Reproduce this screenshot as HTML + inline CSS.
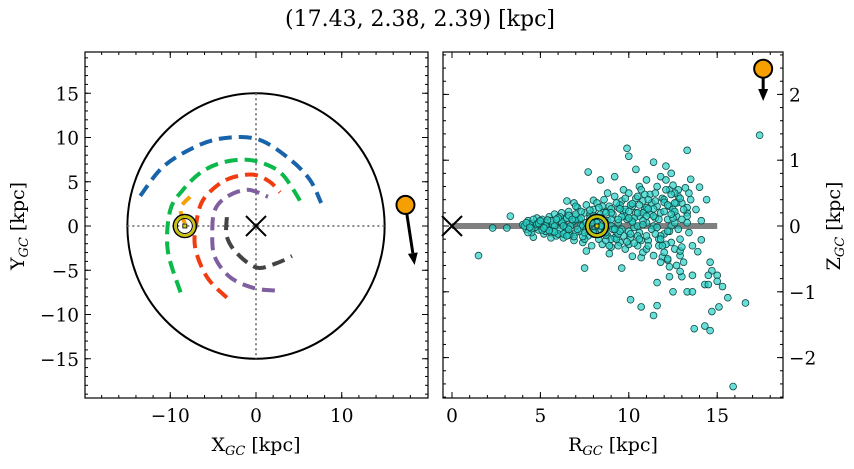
<!DOCTYPE html>
<html><head><meta charset="utf-8"><style>
body{margin:0;background:#fff}
text{font-family:"DejaVu Serif","Liberation Serif",serif;fill:#000}
</style></head><body>
<svg id="s" width="854" height="464" viewBox="0 0 854 464" xmlns="http://www.w3.org/2000/svg">
<text x="420" y="26" font-size="22" text-anchor="middle">(17.43, 2.38, 2.39) [kpc]</text>
<g id="L"></g>
<g id="R"></g>
</svg>
<script>
// ---- data ----
const blueX=[-13.5,-10.7,-6.5,-3.0,0.5,4.0,6.3,7.6];
const blueY=[3.4,6.8,9.2,10.0,9.7,7.5,5.2,2.6];
const greenX=[-8.8,-10.3,-10.0,-8.5,-6.5,-4.2,-1.5,0.8,3.1,5.3];
const greenY=[-7.5,-2.7,1.8,4.1,6.0,7.1,7.5,7.1,5.8,2.6];
const redX=[-3.4,-5.7,-7.1,-6.9,-6.2,-4.5,-2.7,-0.3,1.6,2.8];
const redY=[-8.1,-5.8,-2.4,0.7,2.9,4.6,5.5,5.8,5.0,3.8];
const purpleX=[2.2,-0.3,-3.0,-4.8,-5.1,-4.8,-3.4,-1.0,1.4];
const purpleY=[-7.3,-7.0,-5.8,-3.5,-0.8,1.8,3.3,4.1,3.3];
const grayX=[-3.4,-3.4,-2.2,0.1,2.4,4.2];
const grayY=[1.0,-1.2,-3.1,-4.7,-4.2,-3.4];
const orangeX=[-8.3,-8.8,-7.7];
const orangeY=[0.3,2.0,3.3];
const sunXY=[-8.3,0]; const sunRZ=[8.2,0];
const starX=17.43, starY=2.38, starR=17.6, starZ=2.39;
const arrowXY=[18.5,-4.4]; const arrowZ=1.9;
const ptsR=[17.4,9.9,10.0,13.3,11.4,12.1,7.7,8.4,9.2,10.4,13.5,14.0,14.4,6.5,6.9,3.3,2.3,3.1,1.5,14.1,14.1,13.9,7.5,9.6,11.6,14.6,14.7,14.5,15.0,13.6,12.3,13.0,12.7,12.9,14.3,14.5,15.0,15.3,12.5,13.3,13.6,10.1,10.7,11.6,11.4,15.6,16.6,15.1,14.7,13.7,14.3,14.6,15.9,11.9,12.2,10.7,10.2,8.9,7.6,4.6,5.6,12.3,12.8,13.4,11.0,11.8,12.4,12.1,10.6,9.7,8.8,8.0,13.3,13.3,13.3,
4.0,4.2,4.3,4.5,4.6,4.8,4.9,5.0,5.1,5.2,5.3,5.4,5.5,5.6,5.7,5.8,5.9,6.0,6.1,6.2,6.3,6.4,6.5,6.6,6.7,6.8,6.9,7.0,7.1,7.2,7.3,7.4,7.5,7.6,7.7,7.8,7.9,8.0,8.1,8.2,8.3,8.4,8.5,8.6,8.7,8.8,8.9,9.0,9.1,9.2,9.3,9.4,9.5,9.6,9.7,9.8,9.9,10.0,10.1,10.2,10.3,10.4,10.5,10.6,10.7,10.8,10.9,11.0,11.1,11.2,11.3,11.4,11.5,11.6,11.7,11.8,11.9,12.0,12.1,12.2,12.3,12.4,12.5,12.6,12.7,12.8,12.9,13.0,13.1,13.2,13.3,13.5,13.6,13.8,
4.1,4.4,4.7,5.0,5.2,5.5,5.8,6.0,6.2,6.5,6.7,7.0,7.2,7.4,7.6,7.8,8.0,8.2,8.4,8.6,8.8,9.0,9.2,9.4,9.6,9.8,10.0,10.2,10.4,10.6,10.8,11.0,11.2,11.4,11.6,11.8,12.0,12.2,12.4,12.6,12.8,13.0,7.0,8.5,9.5,10.5,11.5,12.5,9.0,10.0,11.0,12.0,12.9,10.5,9.8,11.8,12.3,
4.3,4.6,5.3,5.6,6.1,6.4,6.9,7.3,7.7,8.1,8.3,8.7,9.1,9.3,9.7,10.1,10.3,10.7,10.9,11.3,11.7,12.1,12.7,13.1,13.4,9.4,8.9,10.6,11.1,12.4,
4.2,4.5,4.8,5.1,5.4,5.7,6.0,6.3,6.6,6.9,7.2,7.5,7.8,8.1,8.4,8.7,9.0,9.3,9.6,9.9,10.2,10.5,10.8,11.1,11.4,11.7,12.0,12.3,12.6,12.9,
4.4,4.9,5.3,5.8,6.2,6.6,7.0,7.4,7.8,8.2,8.6,9.0,9.4,9.8,10.2,10.6,11.0,11.4,11.8,12.2,12.6,13.0,
5.0,5.5,6.0,6.5,7.0,7.5,8.0,8.5,9.0,9.5,10.0,10.5,11.0,11.5,12.0,12.5,
5.2,5.9,6.6,7.3,8.0,8.7,9.4,10.1,10.8,11.5,12.2,12.9,
6.3,7.1,7.9,8.7,9.5,10.3,11.1,11.9,12.6,6.8,7.6,8.4,9.2,10.0,10.8,11.6,12.4];
const ptsZ=[1.38,1.18,1.06,1.15,0.97,0.91,0.82,0.70,0.75,0.86,0.71,0.59,0.40,0.38,0.35,0.15,-0.03,-0.03,-0.45,0.08,-0.21,-0.39,-0.64,-0.64,-0.86,-0.55,-0.68,-0.75,-0.75,-0.75,-0.77,-0.77,-0.6,-0.69,-0.89,-0.89,-0.84,-0.92,-1.0,-1.0,-1.0,-1.12,-1.23,-1.21,-1.36,-1.09,-1.17,-1.23,-1.3,-1.56,-1.52,-1.59,-2.44,-0.47,-0.52,-0.48,-0.46,-0.42,-0.38,-0.17,-0.18,0.55,0.55,0.5,0.7,0.75,0.8,0.7,0.6,0.55,0.5,0.39,0.2,0.15,0.28,
0.02,-0.05,0.08,-0.1,0.04,0.12,-0.06,0.0,0.1,-0.12,0.05,-0.03,0.14,-0.1,0.02,0.18,-0.15,0.07,-0.05,0.2,-0.18,0.1,-0.02,0.22,-0.12,0.05,-0.22,0.15,0.28,-0.08,0.02,-0.25,0.2,0.32,-0.15,0.08,-0.3,0.25,-0.05,0.35,-0.2,0.12,-0.28,0.4,0.0,-0.15,0.3,-0.32,0.18,0.45,-0.1,0.05,-0.25,0.38,0.22,-0.35,0.1,0.5,-0.18,0.3,-0.02,0.42,-0.3,0.15,0.55,-0.4,0.25,0.05,-0.22,0.48,0.35,-0.45,0.12,0.6,-0.3,0.2,0.42,-0.12,0.55,-0.5,0.3,0.0,0.62,-0.35,0.15,0.45,-0.2,0.35,-0.55,0.58,0.05,0.4,-0.3,0.25,
0.0,0.03,-0.02,0.06,0.02,-0.06,0.0,-0.12,0.04,0.12,0.0,-0.1,0.1,0.0,-0.05,0.18,-0.12,0.05,-0.05,0.22,0.08,0.0,-0.18,0.28,-0.05,0.15,-0.08,0.08,0.2,-0.1,0.38,-0.35,0.18,0.0,0.3,-0.15,0.4,0.1,-0.25,0.5,-0.05,0.1,0.3,0.3,0.32,0.45,0.5,0.25,-0.2,-0.28,-0.15,-0.4,-0.45,0.0,0.42,-0.55,-0.62,
-0.1,0.1,-0.08,0.08,0.14,-0.1,0.08,0.22,0.0,0.15,0.28,-0.22,-0.05,0.35,-0.15,0.32,0.12,-0.22,0.48,-0.05,0.1,-0.28,0.35,0.25,-0.1,-0.3,-0.3,0.32,0.4,0.48,
0.05,-0.04,0.03,-0.06,0.09,-0.08,0.12,-0.12,0.16,-0.16,0.1,-0.2,0.24,-0.1,0.18,-0.14,0.26,-0.2,0.14,-0.24,0.34,-0.15,0.2,-0.3,0.26,-0.2,0.36,-0.08,0.22,-0.38,
-0.02,0.04,0.0,-0.09,0.06,-0.14,0.1,-0.16,0.12,0.05,-0.1,0.2,-0.12,0.25,0.06,-0.2,0.28,0.15,-0.2,0.32,0.05,-0.32,
0.08,-0.07,0.12,-0.15,0.18,-0.1,0.15,0.0,0.1,-0.08,0.22,0.2,0.15,-0.12,0.22,0.12,
-0.03,0.1,-0.05,0.12,-0.1,0.2,0.1,-0.12,0.08,0.38,-0.08,0.42,
0.0,-0.05,0.05,-0.1,0.26,-0.26,0.26,-0.3,0.35,0.1,0.05,0.0,-0.05,0.12,0.02,-0.02,0.18];

const NS="http://www.w3.org/2000/svg";
function mk(p,t,a){const e=document.createElementNS(NS,t);for(const k in a)e.setAttribute(k,a[k]);p.appendChild(e);return e;}
const L=document.getElementById('L'),R=document.getElementById('R');
const lx0=85,lx1=428,ly0=52,ly1=398;
const LX=v=>256+v*8.575, LY=v=>226-v*8.85;
const rx0=443,rx1=783;
const RX=v=>452+v*17.68, RY=v=>226-v*65.8;

function smooth(xs,ys,fx,fy){let d='M'+fx(xs[0])+','+fy(ys[0]);
 const p=xs.map((x,i)=>[fx(x),fy(ys[i])]);
 for(let i=0;i<p.length-1;i++){const p0=p[Math.max(0,i-1)],p1=p[i],p2=p[i+1],p3=p[Math.min(p.length-1,i+2)];
 d+=` C${p1[0]+(p2[0]-p0[0])/6},${p1[1]+(p2[1]-p0[1])/6} ${p2[0]-(p3[0]-p1[0])/6},${p2[1]-(p3[1]-p1[1])/6} ${p2[0]},${p2[1]}`;}
 return d;}

let e;
e=mk(L,'ellipse',{cx:LX(0),cy:LY(0),rx:15*8.575,ry:15*8.85,fill:'none',stroke:'#000','stroke-width':2});

e=mk(L,'line',{x1:LX(-15),x2:LX(15),y1:LY(0),y2:LY(0),stroke:'#777','stroke-width':1.8,'stroke-dasharray':'2,3'});

e=mk(L,'line',{x1:LX(0),x2:LX(0),y1:LY(15),y2:LY(-15),stroke:'#777','stroke-width':1.8,'stroke-dasharray':'2,3'});

const arcs=[[blueX,blueY,'#1764ab','blue'],[greenX,greenY,'#0bb84a','green'],[redX,redY,'#f03c0f','red'],[purpleX,purpleY,'#7f5f9f','purple'],[grayX,grayY,'#444','gray'],[orangeX,orangeY,'#f5a000','orange']];
arcs.forEach(a=>{e=mk(L,'path',{d:smooth(a[0],a[1],LX,LY),fill:'none',stroke:a[2],'stroke-width':4,'stroke-dasharray':'13,7'});
});
function cross(p,x,y,n){const g=mk(p,'g',{stroke:'#000','stroke-width':2});
mk(g,'line',{x1:x-10,y1:y-10,x2:x+10,y2:y+10});mk(g,'line',{x1:x-10,y1:y+10,x2:x+10,y2:y-10});
}
cross(L,LX(0),LY(0),'galactic-center-marker');
function sun(p,x,y){const g=mk(p,'g',{});
mk(g,'circle',{cx:x,cy:y,r:11.5,fill:'none',stroke:'#000','stroke-width':1.5});
mk(g,'circle',{cx:x,cy:y,r:9.5,fill:'none',stroke:'#c8c000','stroke-width':2.5});
mk(g,'circle',{cx:x,cy:y,r:7.5,fill:'none',stroke:'#000','stroke-width':1});
mk(g,'rect',{x:x-2,y:y-2,width:4,height:4,fill:'#d8d000',stroke:'#000','stroke-width':0.8});
}
sun(L,LX(sunXY[0]),LY(sunXY[1]));
function arrow(p,x1,y1,x2,y2,n){const g=mk(p,'g',{});
const dx=x2-x1,dy=y2-y1,l=Math.hypot(dx,dy),ux=dx/l,uy=dy/l,h=12;
mk(g,'line',{x1:x1,y1:y1,x2:x2-ux*h,y2:y2-uy*h,stroke:'#000','stroke-width':3});
mk(g,'polygon',{points:`${x2},${y2} ${x2-ux*h-uy*5},${y2-uy*h+ux*5} ${x2-ux*h+uy*5},${y2-uy*h-ux*5}`,fill:'#000'});
}
arrow(L,LX(starX),LY(starY),LX(arrowXY[0]),LY(arrowXY[1]),'velocity-arrow-xy');
e=mk(L,'circle',{cx:LX(starX),cy:LY(starY),r:9,fill:'#f5a000',stroke:'#000','stroke-width':2});


e=mk(R,'line',{x1:RX(0),x2:RX(15),y1:RY(0),y2:RY(0),stroke:'#808080','stroke-width':6});

const sg=mk(R,'g',{});
ptsR.forEach((r,i)=>{const c=mk(sg,'circle',{cx:RX(r),cy:RY(ptsZ[i]),r:3.4,fill:'rgba(40,210,200,0.7)',stroke:'#134a46','stroke-width':0.8});

});
cross(R,RX(0),RY(0),'galactic-center-marker-rz');
sun(R,RX(sunRZ[0]),RY(sunRZ[1]));
arrow(R,RX(starR),RY(starZ),RX(starR),RY(arrowZ),'velocity-arrow-rz');
e=mk(R,'circle',{cx:RX(starR),cy:RY(starZ),r:9,fill:'#f5a000',stroke:'#000','stroke-width':2});


function frame(p,x0,x1,y0,y1,n){e=mk(p,'rect',{x:x0,y:y0,width:x1-x0,height:y1-y0,fill:'none',stroke:'#000','stroke-width':1.2});
}
frame(L,lx0,lx1,ly0,ly1,'xy-axes-frame');frame(R,rx0,rx1,ly0,ly1,'rz-axes-frame');
function ticks(p,f,lo,hi,step,len,horiz,a0,a1){for(let v=Math.ceil(lo/step)*step;v<=hi+1e-9;v+=step){const q=f(v);
 if(horiz){mk(p,'line',{x1:q,x2:q,y1:a1,y2:a1-len,stroke:'#000'});mk(p,'line',{x1:q,x2:q,y1:a0,y2:a0+len,stroke:'#000'});}
 else{mk(p,'line',{y1:q,y2:q,x1:a0,x2:a0+len,stroke:'#000'});mk(p,'line',{y1:q,y2:q,x1:a1,x2:a1-len,stroke:'#000'});}}}
const tg=mk(L,'g',{});
ticks(tg,LX,-19.9,19.9,2,3,true,ly0,ly1);ticks(tg,LX,-10,10,10,6,true,ly0,ly1);
ticks(tg,LY,-19.4,19.6,1,3,false,lx0,lx1);ticks(tg,LY,-15,15,5,6,false,lx0,lx1);
const tg2=mk(R,'g',{});
ticks(tg2,RX,0,18.5,1,3,true,ly0,ly1);ticks(tg2,RX,0,15,5,6,true,ly0,ly1);
ticks(tg2,RY,-2.6,2.6,0.2,3,false,rx0,rx1);ticks(tg2,RY,-2,2,1,6,false,rx0,rx1);

const lxTicks=[-10,0,10],lyTicks=[-15,-10,-5,0,5,10,15],rxTicks=[0,5,10,15],ryTicks=[-2,-1,0,1,2];
function lbl(p,x,y,t,anc,n){const e=mk(p,'text',{x:x,y:y,'font-size':18.5,'text-anchor':anc});e.textContent=t;
return e;}
const m=v=>v<0?'\u2212'+Math.abs(v):''+v;
lxTicks.forEach(v=>lbl(L,LX(v),422,m(v),'middle','x-tick-label'));
lyTicks.forEach(v=>lbl(L,lx0-6,LY(v)+7,m(v),'end','y-tick-label'));
rxTicks.forEach(v=>lbl(R,RX(v),422,m(v),'middle','r-tick-label'));
ryTicks.forEach(v=>lbl(R,rx1+6,RY(v)+7,m(v),'start','z-tick-label'));
let t=mk(L,'text',{x:256,y:451,'font-size':19,'text-anchor':'middle'});t.innerHTML='X<tspan font-size="13" dy="4" font-style="italic">GC</tspan><tspan dy="-4"> [kpc]</tspan>';

t=mk(L,'text',{x:0,y:0,'font-size':19,'text-anchor':'middle',transform:'translate(24,226) rotate(-90)'});t.innerHTML='Y<tspan font-size="13" dy="4" font-style="italic">GC</tspan><tspan dy="-4"> [kpc]</tspan>';

t=mk(R,'text',{x:613,y:451,'font-size':19,'text-anchor':'middle'});t.innerHTML='R<tspan font-size="13" dy="4" font-style="italic">GC</tspan><tspan dy="-4"> [kpc]</tspan>';

t=mk(R,'text',{x:0,y:0,'font-size':19,'text-anchor':'middle',transform:'translate(840,226) rotate(-90)'});t.innerHTML='Z<tspan font-size="13" dy="4" font-style="italic">GC</tspan><tspan dy="-4"> [kpc]</tspan>';

</script>
</body></html>
